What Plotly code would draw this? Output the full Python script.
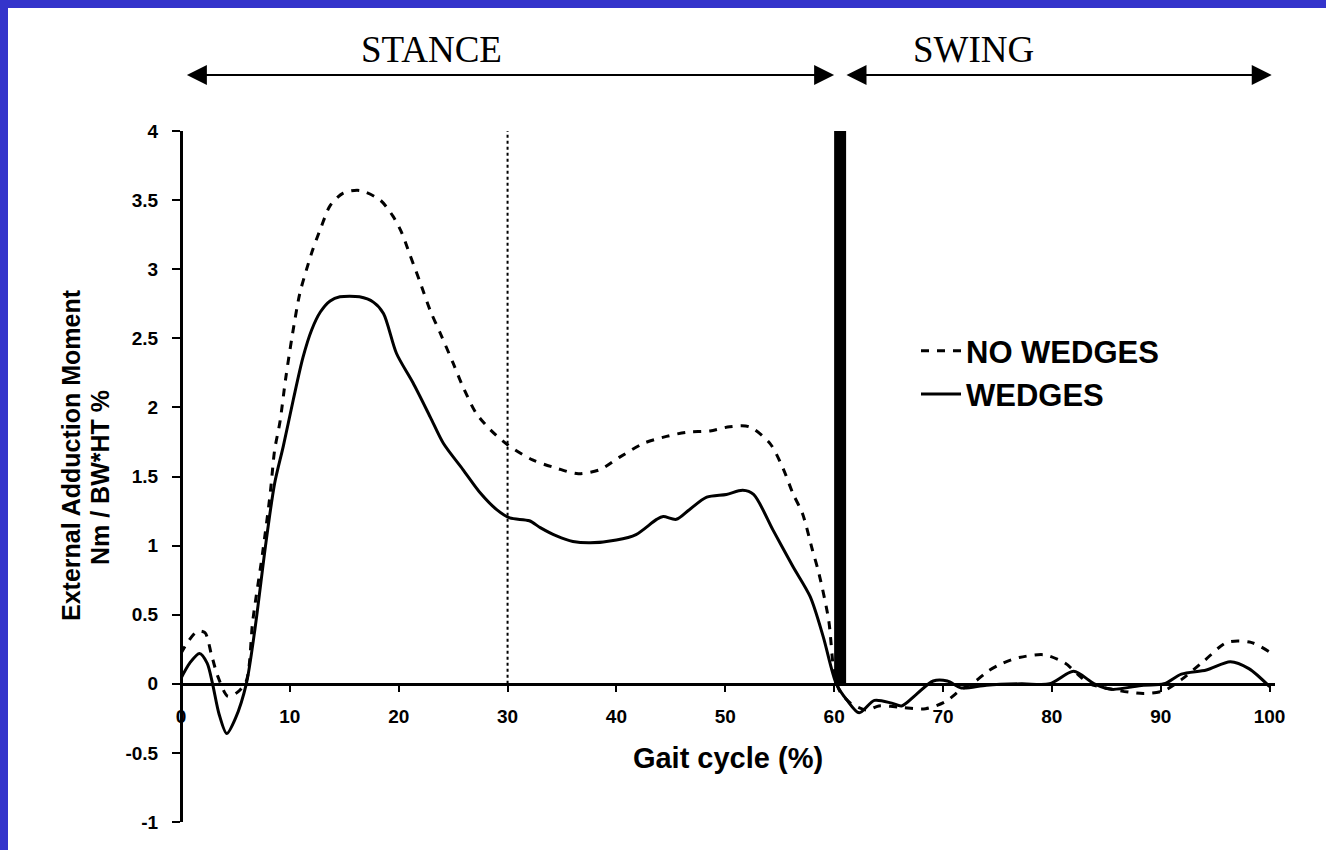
import plotly.graph_objects as go

# ---------------- data ----------------
x_wedges = [0, 0.8, 1.7, 2.4, 2.9, 3.5, 4.2, 5.0, 6.0, 6.8, 7.8, 8.6, 9.4, 10.3, 11.2, 12.0,
            12.8, 13.7, 14.6, 16.4, 17.7, 18.6, 19.8, 21.3, 22.9, 24.1, 25.9, 27.5, 29.0, 30.2,
            32.0, 33.0, 34.5, 36.0, 37.6, 40.0, 41.8, 43.7, 44.3, 45.5, 46.7, 48.3, 50.1, 51.6,
            52.6, 54.4, 56.2, 57.8, 59.0, 60.2, 61.2, 62.3, 63.7, 65.3, 66.2, 67.5, 69.1, 70.4,
            71.7, 74.0, 77.2, 79.8, 82.0, 83.9, 85.5, 88.4, 90.3, 91.9, 94.2, 96.4, 98.1, 100]
y_wedges = [0.04, 0.15, 0.22, 0.15, 0.0, -0.22, -0.36, -0.25, 0.0, 0.40, 1.02, 1.45, 1.72, 2.05,
            2.36, 2.56, 2.69, 2.77, 2.80, 2.80, 2.76, 2.68, 2.39, 2.18, 1.93, 1.74, 1.55, 1.38,
            1.26, 1.20, 1.18, 1.13, 1.07, 1.03, 1.02, 1.04, 1.08, 1.19, 1.21, 1.19, 1.26, 1.35,
            1.37, 1.40, 1.37, 1.11, 0.85, 0.63, 0.34, 0.0, -0.12, -0.21, -0.12, -0.14, -0.16,
            -0.08, 0.02, 0.02, -0.03, -0.01, 0.0, 0.0, 0.09, 0.0, -0.04, -0.01, 0.0, 0.07, 0.10,
            0.16, 0.11, -0.02]

x_no_wedges = [0, 0.6, 1.5, 2.2, 2.8, 3.4, 4.3, 5.2, 6.0, 6.6, 7.5, 8.2, 8.6, 9.1, 9.6, 10.2,
               10.9, 11.5, 12.1, 12.9, 13.7, 14.9, 16.4, 18.3, 19.5, 20.3, 21.0, 21.9, 22.9, 23.8,
               25.0, 25.9, 27.1, 28.4, 30.0, 32.3, 34.5, 36.5, 38.5, 40.3, 42.5, 44.6, 46.4, 48.6,
               50.4, 52.2, 54.1, 55.3, 56.2, 57.1, 58.0, 58.6, 59.5, 60.0, 60.5, 61.5, 63.0, 64.1,
               66.1, 68.4, 70.2, 71.7, 73.0, 74.1, 75.5, 77.0, 79.3, 81.2, 82.5, 83.5, 85.5, 88.4,
               90.3, 91.9, 93.9, 96.1, 98.3, 100]
y_no_wedges = [0.22, 0.30, 0.38, 0.37, 0.21, 0.05, -0.09, -0.06, 0.02, 0.46, 0.95, 1.38, 1.69,
               1.90, 2.20, 2.51, 2.82, 2.99, 3.14, 3.31, 3.46, 3.55, 3.57, 3.50, 3.38, 3.26, 3.11,
               2.92, 2.70, 2.54, 2.32, 2.15, 1.96, 1.84, 1.73, 1.62, 1.56, 1.52, 1.55, 1.64, 1.74,
               1.79, 1.82, 1.83, 1.86, 1.86, 1.74, 1.56, 1.38, 1.23, 0.97, 0.80, 0.46, 0.08, -0.05,
               -0.14, -0.19, -0.16, -0.17, -0.18, -0.13, -0.04, 0.02, 0.09, 0.15, 0.19, 0.21, 0.15,
               0.06, 0.0, -0.04, -0.07, -0.05, 0.03, 0.16, 0.30, 0.30, 0.23]

x_ticks = [0, 10, 20, 30, 40, 50, 60, 70, 80, 90, 100]
x_tick_labels = ["0", "10", "20", "30", "40", "50", "60", "70", "80", "90", "100"]
y_ticks = [-1, -0.5, 0, 0.5, 1, 1.5, 2, 2.5, 3, 3.5, 4]
y_tick_labels = ["-1", "-0.5", "0", "0.5", "1", "1.5", "2", "2.5", "3", "3.5", "4"]

phase_names = ["STANCE", "SWING"]
phase_start = [0.4, 61.0]
phase_end = [60.0, 100.2]
phase_label_x = [23.0, 72.8]

mid_stance_x = 30
toe_off_x = [60.0, 61.1]

y_title_lines = ["External Adduction Moment", "Nm / BW*HT %"]

# ---------------- figure ----------------
# the page keeps an 8px blue band on its top and left; the figure fills the rest
OFF = 8
W, H = 1326 - OFF, 850 - OFF
L, R, T, B = 173, 51, 123, 28
pw, ph = W - L - R, H - T - B

BLUE = "#3434CB"
sans = "Liberation Sans, Arial, sans-serif"
serif = "Liberation Serif, Times New Roman, serif"


def px_x(page_x):
    return (page_x - OFF - L) / pw


def px_y(page_y):
    return (H - B - (page_y - OFF)) / ph


fig = go.Figure()
fig.add_trace(go.Scatter(x=x_no_wedges, y=y_no_wedges, name="NO WEDGES", mode="lines",
                         line=dict(color="black", width=3, dash="8px,8px", shape="spline", smoothing=0.8)))
fig.add_trace(go.Scatter(x=x_wedges, y=y_wedges, name="WEDGES", mode="lines",
                         line=dict(color="black", width=3, shape="spline", smoothing=0.8)))

shapes = [
    dict(type="line", xref="x", yref="y", x0=mid_stance_x, x1=mid_stance_x, y0=0, y1=4,
         line=dict(color="black", width=2, dash="dot")),
    dict(type="rect", xref="x", yref="y", x0=toe_off_x[0], x1=toe_off_x[1], y0=0, y1=4,
         fillcolor="black", line=dict(width=0)),
]

arrow_y = px_y(75)
label_y = px_y(50)
annotations = []
for name, s, e, lx in zip(phase_names, phase_start, phase_end, phase_label_x):
    annotations.append(dict(x=e, y=arrow_y, xref="x", yref="paper", ax=s, ay=0, axref="x", ayref="pixel",
                            text="", showarrow=True, arrowhead=2, arrowside="end+start",
                            arrowsize=2.0, arrowwidth=2, arrowcolor="black"))
    annotations.append(dict(x=lx, y=label_y, xref="x", yref="paper", text=name, showarrow=False,
                            xanchor="center", yanchor="middle",
                            font=dict(family=serif, size=37, color="black")))

# y-axis title (two lines, tight leading as in the original)
for txt, cx, cy in zip(y_title_lines, [71, 100], [455, 478]):
    annotations.append(dict(x=px_x(cx), y=px_y(cy), xref="paper", yref="paper", text=txt,
                            showarrow=False, textangle=-90, xanchor="center", yanchor="middle",
                            font=dict(family=sans, size=25, color="black", weight="bold")))

fig.update_layout(
    width=W, height=H,
    margin=dict(l=L, r=R, t=T, b=B),
    paper_bgcolor="white", plot_bgcolor="white",
    shapes=shapes, annotations=annotations,
    showlegend=True,
    legend=dict(x=px_x(916), y=px_y(324), xanchor="left", yanchor="top",
                bgcolor="rgba(0,0,0,0)", itemwidth=40,
                font=dict(family=sans, size=31, color="black", weight="bold")),
    xaxis=dict(range=[0, 100.5], anchor="free", position=0.2,
               showline=True, linecolor="black", linewidth=3, showgrid=False, zeroline=False,
               ticks="outside", ticklen=6, tickwidth=2, tickcolor="black",
               tickvals=x_ticks, ticktext=x_tick_labels, ticklabelstandoff=8,
               tickfont=dict(family=sans, size=19, color="black", weight="bold"),
               title=dict(text="Gait cycle (%)", standoff=22,
                          font=dict(family=sans, size=29, color="black", weight="bold"))),
    yaxis=dict(range=[-1, 4], anchor="free", position=0,
               showline=True, linecolor="black", linewidth=3, showgrid=False, zeroline=False,
               ticks="outside", ticklen=8, tickwidth=2, tickcolor="black",
               tickvals=y_ticks, ticktext=y_tick_labels, ticklabelstandoff=10,
               tickfont=dict(family=sans, size=19, color="black", weight="bold")),
)

band = "linear-gradient(" + BLUE + "," + BLUE + ")"
page_css = ("var b=document.body, h=document.documentElement;"
            "h.style.overflow='hidden';b.style.overflow='hidden';"
            "b.style.margin='" + str(OFF) + "px 0 0 " + str(OFF) + "px';"
            "b.style.backgroundColor='transparent';"
            "h.style.background='" + band + " left top / 100% " + str(OFF) + "px no-repeat, "
            + band + " left top / " + str(OFF) + "px 100% no-repeat, white';")

fig.write_html("out.html", post_script=page_css)
